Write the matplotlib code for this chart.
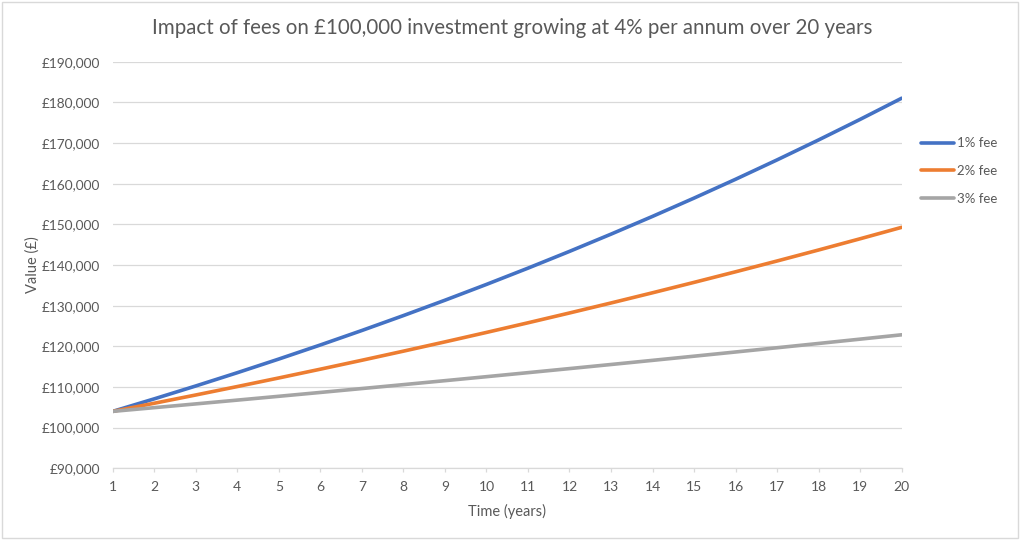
import matplotlib
matplotlib.use("Agg")
import matplotlib.pyplot as plt
from matplotlib.patches import Rectangle
from matplotlib.ticker import FuncFormatter, MultipleLocator

plt.rcParams['font.family'] = ['Lato', 'DejaVu Sans']

years = list(range(1, 21))
fee_1 = [104000, 107078, 110248, 113511, 116871, 120331, 123892, 127560, 131335, 135223,
         139223, 143347, 147590, 151958, 156456, 161087, 165856, 170765, 175819, 181024]
fee_2 = [104000, 105997, 108032, 110106, 112220, 114375, 116571, 118809, 121090, 123415,
         125785, 128200, 130661, 133170, 135727, 138333, 140989, 143696, 146455, 149266]
fee_3 = [104000, 104915, 105839, 106770, 107709, 108657, 109613, 110578, 111551, 112533,
         113523, 114522, 115530, 116547, 117572, 118607, 119651, 120703, 121766, 122837]
series_labels = ['1% fee', '2% fee', '3% fee']
series_colors = ['#4472C4', '#ED7D31', '#A5A5A5']

title = 'Impact of fees on £100,000 investment growing at 4% per annum over 20 years'
x_label = 'Time (years)'
y_label = 'Value (£)'

TXT = '#595959'
GRID = '#D9D9D9'

W, H = 1024, 540
fig = plt.figure(figsize=(W / 100, H / 100), dpi=100)
fig.patch.set_facecolor('white')

def fx(px):
    return px / W

def fy(py):
    return 1 - py / H

ax = fig.add_axes([fx(112.7), fy(468.3), fx(901.7) - fx(112.7), fy(61.7) - fy(468.3)])

for vals, lab, col in zip([fee_1, fee_2, fee_3], series_labels, series_colors):
    ax.plot(years, vals, color=col, lw=2.6, label=lab, solid_capstyle='round')

ax.set_xlim(1, 20)
ax.set_ylim(90000, 190000)
ax.set_xticks(years)
ax.yaxis.set_major_locator(MultipleLocator(10000))
ax.yaxis.set_major_formatter(FuncFormatter(lambda v, p: '£{:,.0f}'.format(v)))

ax.grid(axis='y', color=GRID, lw=0.9)
ax.set_axisbelow(True)
for s in ['top', 'right', 'left']:
    ax.spines[s].set_visible(False)
ax.spines['bottom'].set_color(GRID)
ax.spines['bottom'].set_linewidth(0.9)

ax.tick_params(axis='y', length=0, pad=9, labelsize=9.8, labelcolor=TXT)
ax.tick_params(axis='x', length=3, width=0.9, color=GRID, pad=6, labelsize=10, labelcolor=TXT)

fig.text(fx(512), fy(28), title, ha='center', va='center', fontsize=14.8, color=TXT)
fig.text(fx(507), fy(511), x_label, ha='center', va='center', fontsize=10.5, color=TXT)
fig.text(fx(33), fy(265), y_label, ha='center', va='center', rotation=90, fontsize=10.5, color=TXT)

fig.legend(loc='center left', bbox_to_anchor=(fx(921), fy(171)), frameon=False,
           borderaxespad=0, borderpad=0, fontsize=9.5, handlelength=2.5,
           handletextpad=0.25, labelspacing=1.2, labelcolor=TXT)

fig.patches.append(Rectangle((fx(2), fy(537.5)), fx(1018) - fx(2), fy(2) - fy(537.5),
                             transform=fig.transFigure, fill=False, edgecolor=GRID, lw=1))

fig.savefig('out.png', dpi=100, facecolor='white')
